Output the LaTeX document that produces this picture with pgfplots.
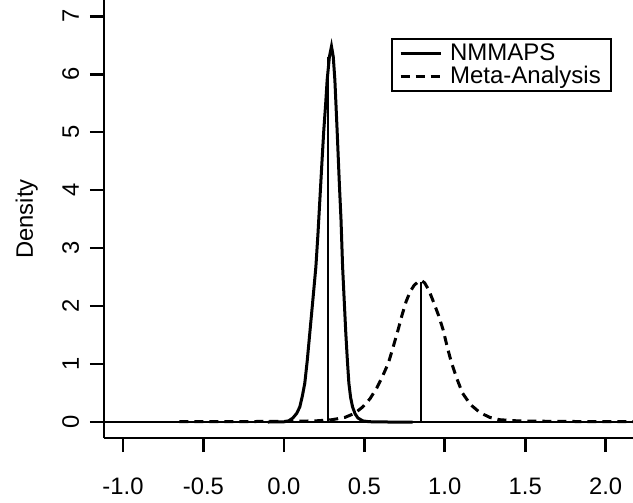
\documentclass[border=0pt]{standalone}
\usepackage{pgfplots}
\pgfplotsset{compat=1.18}
\usepackage{fontspec}
\setmainfont{Liberation Sans}
\begin{document}
\begin{tikzpicture}
\begin{axis}[
  scale only axis, width=264.5pt, height=219pt,
  xmin=-1.118, xmax=2.17, ymin=-0.276, ymax=7.28,
  axis x line*=bottom, axis y line*=left,
  axis line style={line width=1.3pt, -},
  xtick={-1,-0.5,0,0.5,1,1.5,2}, ytick={0,1,2,3,4,5,6,7},
  xticklabels={-1.0,-0.5,0.0,0.5,1.0,1.5,2.0},
  yticklabels={0,1,2,3,4,5,6,7},
  tick align=outside, major tick length=7pt,
  tick style={line width=1.3pt, black},
  ticklabel style={font=\fontsize{11.9}{14}\selectfont},
  yticklabel style={rotate=90, anchor=base, inner sep=0pt, yshift=5.5pt},
  xticklabel style={anchor=north, inner sep=0pt, text height=8.6pt, text depth=0pt, yshift=-12.5pt},
  ylabel={Density},
  label style={font=\fontsize{11.9}{14}\selectfont},
  ylabel style={at={(axis description cs:0,0.5)}, anchor=base, yshift=35.5pt},
  legend style={at={(axis description cs:0.960,0.913)}, anchor=north east,
    draw=black, line width=1pt, inner xsep=3.5pt, inner ysep=1pt,
    nodes={inner sep=1.5pt}, row sep=-2pt, column sep=2.5pt,
    font=\fontsize{12}{12}\selectfont, cells={anchor=west}},
  legend image code/.code={\draw[#1] (0pt,0pt) -- (20pt,0pt);},
  clip=true,
]
\addplot[black, line width=0.8pt, forget plot] coordinates {(-1.118,0) (2.17,0)};
\addplot[black, line width=1.5pt] coordinates {
(-0.1,0) (0.0,0.003) (0.03,0.02) (0.056,0.07) (0.08,0.15) (0.099,0.26) (0.115,0.45)
(0.130,0.67) (0.145,1.05) (0.161,1.53) (0.18,2.1) (0.199,2.68) (0.212,3.25)
(0.222,3.75) (0.235,4.4) (0.248,5.03) (0.26,5.5) (0.269,5.9) (0.283,6.3) (0.296,6.48)
(0.307,6.3) (0.317,5.9) (0.331,5.03) (0.345,4.1) (0.355,3.5) (0.365,2.68) (0.375,2.1)
(0.385,1.53) (0.395,1.05) (0.404,0.67) (0.415,0.42) (0.427,0.26) (0.443,0.14)
(0.46,0.07) (0.49,0.02) (0.53,0.005) (0.65,0) (0.8,0)};
\addlegendentry{NMMAPS}
\addplot[black, line width=1.5pt, dash pattern=on 4.5pt off 3pt] coordinates {
(-0.65,0.005) (-0.3,0.008) (0.0,0.01) (0.2,0.02) (0.3,0.04) (0.38,0.08) (0.44,0.15)
(0.49,0.26) (0.535,0.4) (0.58,0.6) (0.615,0.8) (0.65,1.02) (0.68,1.3) (0.71,1.59)
(0.735,1.85) (0.76,2.08) (0.785,2.25) (0.81,2.36) (0.835,2.42) (0.855,2.44)
(0.875,2.4) (0.90,2.28) (0.926,2.1) (0.96,1.85) (0.99,1.59) (1.015,1.3) (1.04,1.04)
(1.075,0.75) (1.11,0.5) (1.16,0.3) (1.22,0.16) (1.28,0.08) (1.34,0.04) (1.45,0.02)
(1.7,0.01) (2.17,0.005)};
\addlegendentry{Meta-Analysis}
\addplot[black, line width=1pt, forget plot] coordinates {(0.272,0) (0.272,6.3)};
\addplot[black, line width=1pt, forget plot] coordinates {(0.85,0) (0.85,2.42)};
\end{axis}
\pgfresetboundingbox
\path (current axis.south west) ++(-52pt,-32pt) coordinate (bl);
\path (current axis.north east) coordinate (tr);
\useasboundingbox (bl) rectangle (tr);
\end{tikzpicture}
\end{document}
